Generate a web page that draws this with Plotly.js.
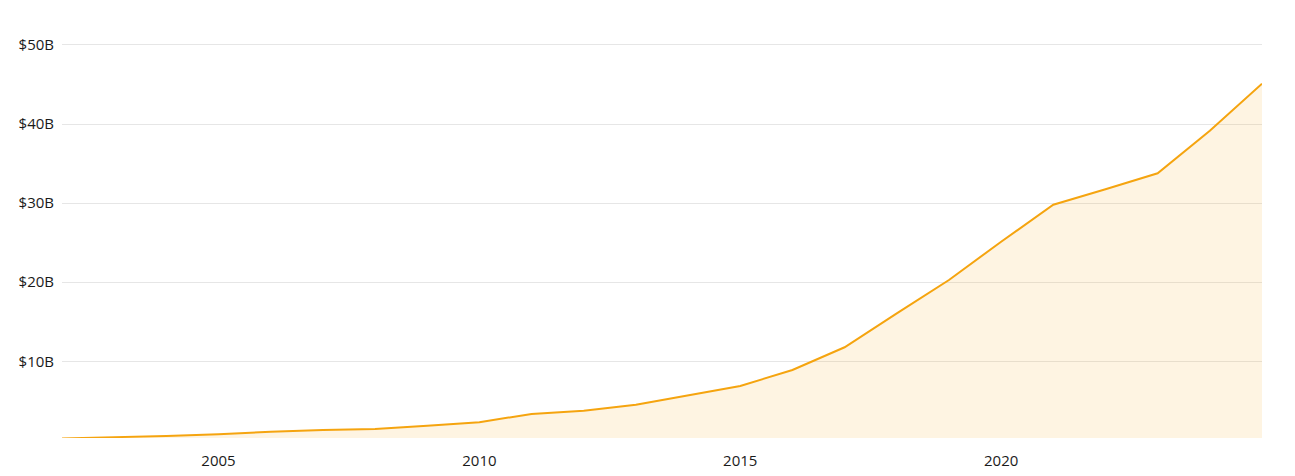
<!DOCTYPE html>
<html>
<head>
<meta charset="utf-8">
<script src="https://cdn.plot.ly/plotly-3.0.1.min.js"></script>
<style>html,body{margin:0;padding:0;background:#fff;}#chart{width:1295px;height:476px;}</style>
</head>
<body>
<div id="chart"></div>
<script>
const years = [2002,2003,2004,2005,2006,2007,2008,2009,2010,2011,2012,2013,2014,2015,2016,2017,2018,2019,2020,2021,2022,2023,2024,2025];
const valuesB = [0.25,0.38,0.56,0.77,1.1,1.31,1.44,1.86,2.3,3.34,3.75,4.5,5.65,6.88,8.9,11.77,16.07,20.28,25.12,29.8,31.75,33.77,39.16,45.1];
const xTickVals = [2005,2010,2015,2020];
const yTickVals = [10,20,30,40,50];
const yTickText = ['$10B','$20B','$30B','$40B','$50B'];

const trace = {
  x: years, y: valuesB, type: 'scatter', mode: 'lines',
  line: {color: '#F5A40F', width: 2},
  fill: 'tozeroy', fillcolor: 'rgba(245,164,16,0.12)',
  hoverinfo: 'x+y'
};
const layout = {
  width: 1295, height: 476,
  margin: {l: 62, r: 33, t: 41, b: 38},
  paper_bgcolor: '#fff', plot_bgcolor: '#fff',
  showlegend: false,
  font: {family: 'Open Sans, sans-serif', size: 15, color: '#1a1a1a'},
  xaxis: {range: [2002, 2025], tickvals: xTickVals, ticktext: xTickVals.map(String),
          showgrid: false, zeroline: false, showline: false, ticks: '',
          tickfont: {size: 15, color: '#1a1a1a'}, ticklabelstandoff: 12},
  yaxis: {range: [0.3, 50.5], tickvals: yTickVals, ticktext: yTickText,
          showgrid: true, gridcolor: '#e6e6e6', gridwidth: 1, zeroline: false, showline: false,
          ticks: '', tickfont: {size: 15, color: '#1a1a1a'}, ticklabelstandoff: 7}
};
Plotly.newPlot('chart', [trace], layout, {displayModeBar: false, staticPlot: true});
</script>
</body>
</html>
